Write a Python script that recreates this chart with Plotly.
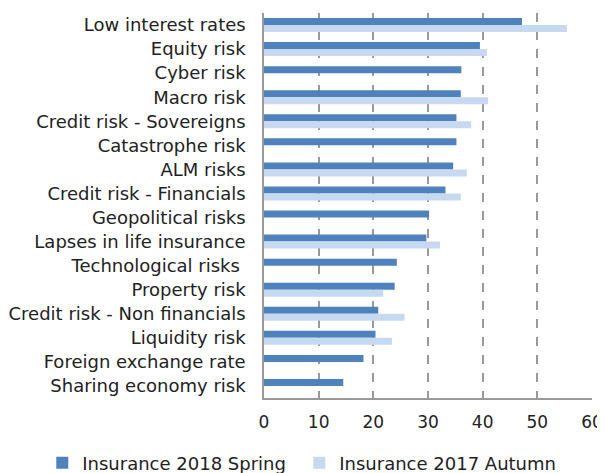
import plotly.graph_objects as go

categories = ["Low interest rates", "Equity risk", "Cyber risk", "Macro risk",
              "Credit risk - Sovereigns", "Catastrophe risk", "ALM risks",
              "Credit risk - Financials", "Geopolitical risks",
              "Lapses in life insurance", "Technological risks ", "Property risk",
              "Credit risk - Non financials", "Liquidity risk",
              "Foreign exchange rate", "Sharing economy risk"]
spring_2018 = [47.2, 39.5, 36.1, 36.0, 35.2, 35.2, 34.6, 33.2, 30.2, 29.7,
               24.3, 23.9, 20.9, 20.4, 18.2, 14.5]
autumn_2017 = [55.4, 40.8, None, 41.0, 37.9, None, 37.1, 36.0, None, 32.2,
               None, 21.8, 25.7, 23.4, None, None]
x_ticks = [0, 10, 20, 30, 40, 50, 60]

font = "DejaVu Sans, Verdana, sans-serif"

fig = go.Figure()
fig.add_trace(go.Bar(y=categories, x=spring_2018, orientation="h",
                     name="Insurance 2018 Spring",
                     marker=dict(color="#4F81BD", line=dict(width=0))))
fig.add_trace(go.Bar(y=categories, x=autumn_2017, orientation="h",
                     name="Insurance 2017 Autumn",
                     marker=dict(color="#C6D9F1", line=dict(width=0))))

# page body has an 8px margin, so the figure is sized/offset to compensate
fig.update_layout(
    width=597, height=465,
    margin=dict(l=256, r=13, t=5, b=75, autoexpand=False),
    paper_bgcolor="white", plot_bgcolor="white",
    barmode="group", bargap=0.42, bargroupgap=0,
    font=dict(family=font, size=18, color="#222222"),
    showlegend=True,
    legend=dict(orientation="h", x=-0.676, xanchor="left",
                y=-0.121, yanchor="top", font=dict(size=18, color="#222222"),
                entrywidth=212, traceorder="normal"),
)
fig.update_xaxes(range=[0, 60], tickvals=x_ticks, showgrid=True,
                 gridcolor="#999999", griddash="dash", gridwidth=1.5,
                 showline=True, linecolor="#999999", linewidth=1.5,
                 ticks="outside", ticklen=8, tickcolor="white",
                 tickfont=dict(size=17), zeroline=False)
fig.update_yaxes(autorange="reversed", showline=True, linecolor="#999999",
                 linewidth=1.5, ticks="outside", ticklen=13, tickcolor="white",
                 tickfont=dict(size=18))

fig.write_html("out.html")
